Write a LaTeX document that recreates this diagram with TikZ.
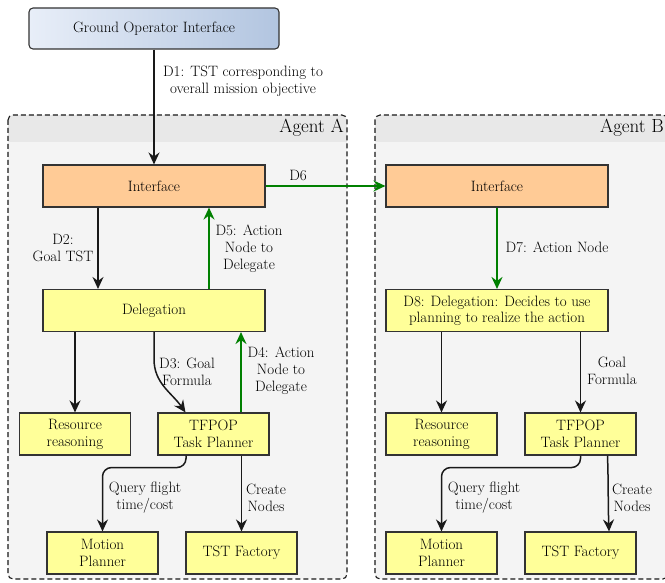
\documentclass[tikz,border=0pt]{standalone}
\usepackage{fontspec}
\usetikzlibrary{arrows.meta,calc}
\definecolor{boxline}{HTML}{333333}
\definecolor{orangefill}{HTML}{FFCB96}
\definecolor{yel}{HTML}{FFFF99}
\definecolor{bodygray}{HTML}{F4F4F4}
\definecolor{headgray}{HTML}{E8E8E8}
\definecolor{goileft}{HTML}{E8EEF8}
\definecolor{goiright}{HTML}{B2C5E0}
\definecolor{dgreen}{HTML}{008000}
\begin{document}
\begin{tikzpicture}[x=1pt,y=-1pt,
  font=\fontsize{15}{17}\selectfont,
  box/.style={draw=boxline, line width=1.1pt, minimum width=222pt, minimum height=42pt, inner sep=0pt, align=center},
  sbox/.style={box, fill=yel, minimum width=111pt},
  arr/.style={draw=black!90, line width=1.5pt, -{Stealth[length=12pt,width=11pt,inset=4pt]}},
  garr/.style={arr, draw=dgreen, line width=2pt},
  lbl/.style={align=center, inner sep=0pt},
  agentbox/.style={draw=black!90, line width=1.1pt, dash pattern=on 5pt off 3pt, rounded corners=5pt},
  agentlbl/.style={anchor=east, inner sep=0pt, font=\fontsize{19}{22}\selectfont}]
\useasboundingbox (0,0) rectangle (665,583);

% containers
\foreach \xa/\xb in {8/347, 375/668}{
  \fill[bodygray, rounded corners=5pt] (\xa,115) rectangle (\xb,579);
  \begin{scope}
    \clip[rounded corners=5pt] (\xa,115) rectangle (\xb,579);
    \fill[headgray] (\xa,115) rectangle (\xb,142);
  \end{scope}
  \draw[agentbox] (\xa,115) rectangle (\xb,579);
}
\node[agentlbl] (agA) at (344,128) {Agent A};
\node[agentlbl] (agB) at (664,128) {Agent B};

% ground operator
\node[draw=boxline, line width=1.1pt, rounded corners=4pt, left color=goileft, right color=goiright,
      minimum width=250pt, minimum height=41pt, inner sep=0pt] (goi) at (154,28.5) {Ground Operator Interface};

% Agent A
\node[box, fill=orangefill] (ifA) at (154,186) {Interface};
\node[box, fill=yel] (delA) at (154,310.5) {Delegation};
\node[sbox] (resA) at (75,434) {Resource\\reasoning};
\node[sbox] (tfpA) at (213.5,434) {TFPOP\\Task Planner};
\node[sbox] (motA) at (102.5,553) {Motion\\Planner};
\node[sbox] (tstA) at (241.5,553) {TST Factory};

% Agent B
\node[box, fill=orangefill] (ifB) at (497,186) {Interface};
\node[box, fill=yel, font=\fontsize{15}{16}\selectfont] (delB) at (497,310.5) {D8: Delegation: Decides to use\\planning to realize the action};
\node[sbox] (resB) at (441.5,434) {Resource\\reasoning};
\node[sbox] (tfpB) at (580.5,434) {TFPOP\\Task Planner};
\node[sbox] (motB) at (441.5,553) {Motion\\Planner};
\node[sbox] (tstB) at (580.5,553) {TST Factory};

% connectors Agent A
\draw[arr] (goi.south) -- (ifA.north);
\node[lbl] (d1) at (243,81) {D1: TST corresponding to\\overall mission objective};
\draw[arr] ([xshift=-56pt]ifA.south) -- ([xshift=-56pt]ifA.south |- delA.north);
\node[lbl] (d2) at (63,248) {D2:\\Goal TST};
\draw[garr] ([xshift=55pt]delA.north) -- ([xshift=55pt]delA.north |- ifA.south);
\node[lbl] (d5) at (249,249) {D5: Action\\Node to\\Delegate};
\draw[arr] (resA.north |- delA.south) -- (resA.north);
\draw[arr] (delA.south) -- ++(0,27) to[out=-90,in=125] ([xshift=-28pt]tfpA.north);
\node[lbl] (d3) at (187,372) {D3: Goal\\Formula};
\draw[garr] ([xshift=27.5pt]tfpA.north) -- ([xshift=27.5pt]tfpA.north |- delA.south);
\node[lbl] (d4) at (281,371) {D4: Action\\Node to\\Delegate};
\draw[arr, rounded corners=9pt] ([xshift=-27.5pt]tfpA.south) -- ++(0,12) -| (motA.north);
\node[lbl] (qA) at (145,498) {Query flight\\time/cost};
\draw[arr] (tstA.north |- tfpA.south) -- (tstA.north);
\node[lbl] (cA) at (266,498) {Create\\Nodes};

% between agents
\draw[garr] (ifA.east) -- (ifB.west);
\node[lbl] (d6) at (298,175) {D6};

% connectors Agent B
\draw[garr] (ifB.south) -- (delB.north);
\node[lbl] (d7) at (557,247) {D7: Action Node};
\draw[arr] (resB.north |- delB.south) -- (resB.north);
\draw[arr] (tfpB.north |- delB.south) -- (tfpB.north);
\node[lbl] (gB) at (612,371) {Goal\\Formula};
\draw[arr, rounded corners=9pt] (tfpB.south) -- ++(0,12) -| (motB.north);
\node[lbl] (qB) at (484,498) {Query flight\\time/cost};
\draw[arr] ([xshift=27pt]tfpB.south) to[out=-88,in=92] ([xshift=28.5pt]tstB.north);
\node[lbl] (cB) at (632,498) {Create\\Nodes};
\end{tikzpicture}
\end{document}
